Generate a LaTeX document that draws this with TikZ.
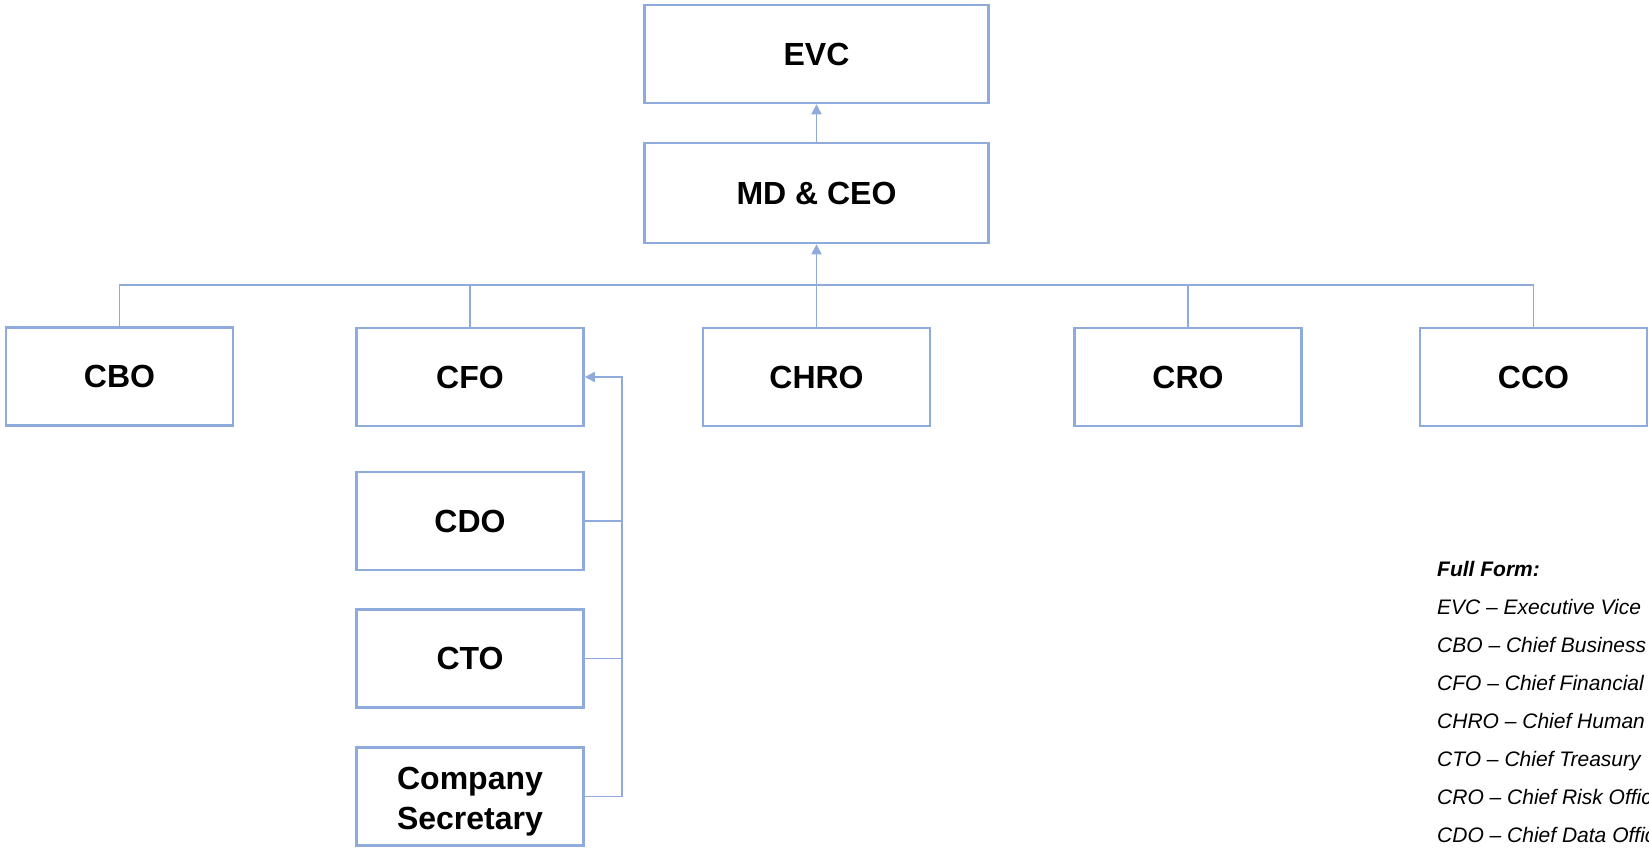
\documentclass[tikz,border=0pt]{standalone}
\usepackage{fontspec}
\setmainfont{Liberation Sans}
\usetikzlibrary{arrows.meta}
\definecolor{lineblue}{RGB}{143,170,220}
\tikzset{
  orgbox/.style={draw=lineblue, line width=2.6pt, fill=white, rectangle, inner sep=0pt,
    minimum width=227pt, minimum height=98pt, align=center,
    font=\fontsize{32}{40}\selectfont\bfseries},
  bigbox/.style={orgbox, minimum width=344pt},
  conn/.style={draw=lineblue, line width=1.7pt},
  connarrow/.style={conn, -{Triangle[length=10pt,width=10pt]}},
  legend/.style={anchor=base west, inner sep=0pt, font=\fontsize{21}{25}\selectfont\itshape}
}
\begin{document}
\begin{tikzpicture}[x=1pt,y=-1pt]
\useasboundingbox (0,0) rectangle (1649,848);
\clip (0,0) rectangle (1649,848);
\fill[white] (0,0) rectangle (1649,848);

\node[bigbox] (evc) at (816.5,54) {EVC};
\node[bigbox, minimum height=100pt] (md) at (816.5,193) {MD \& CEO};

\node[orgbox] (cbo) at (119.5,376.5) {CBO};
\node[orgbox] (cfo) at (470,377) {CFO};
\node[orgbox] (chro) at (816.5,377) {CHRO};
\node[orgbox] (cro) at (1188,377) {CRO};
\node[orgbox] (cco) at (1533.5,377) {CCO};

\node[orgbox] (cdo) at (470,521) {CDO};
\node[orgbox] (cto) at (470,658.5) {CTO};
\node[orgbox] (cs) at (470,796.5) {\rule{0pt}{33pt}Company\\Secretary};

\coordinate (bus) at (816.5,285);
\coordinate (spine) at (622,377);

\draw[connarrow] (md.north) -- (evc.south);
\draw[connarrow] (chro.north) -- (md.south);
\draw[conn] (cbo.north) |- (bus) -| (cco.north);
\draw[conn] (cfo.north) -- (cfo.north |- bus);
\draw[conn] (cro.north) -- (cro.north |- bus);

\draw[connarrow] (cs.east) -| (spine) -- (cfo.east);
\draw[conn] (cdo.east) -- (spine |- cdo.east);
\draw[conn] (cto.east) -- (spine |- cto.east);

\node[legend, font=\fontsize{21}{25}\selectfont\bfseries\itshape] (lt) at (1437,576) {Full Form:};
\node[legend] (l1) at (1437,614) {EVC – Executive Vice};
\node[legend] (l2) at (1437,652) {CBO – Chief Business};
\node[legend] (l3) at (1437,690) {CFO – Chief Financial};
\node[legend] (l4) at (1437,728) {CHRO – Chief Human};
\node[legend] (l5) at (1437,766) {CTO – Chief Treasury};
\node[legend] (l6) at (1437,804) {CRO – Chief Risk Officer};
\node[legend] (l7) at (1437,842) {CDO – Chief Data Officer};
\end{tikzpicture}
\end{document}
